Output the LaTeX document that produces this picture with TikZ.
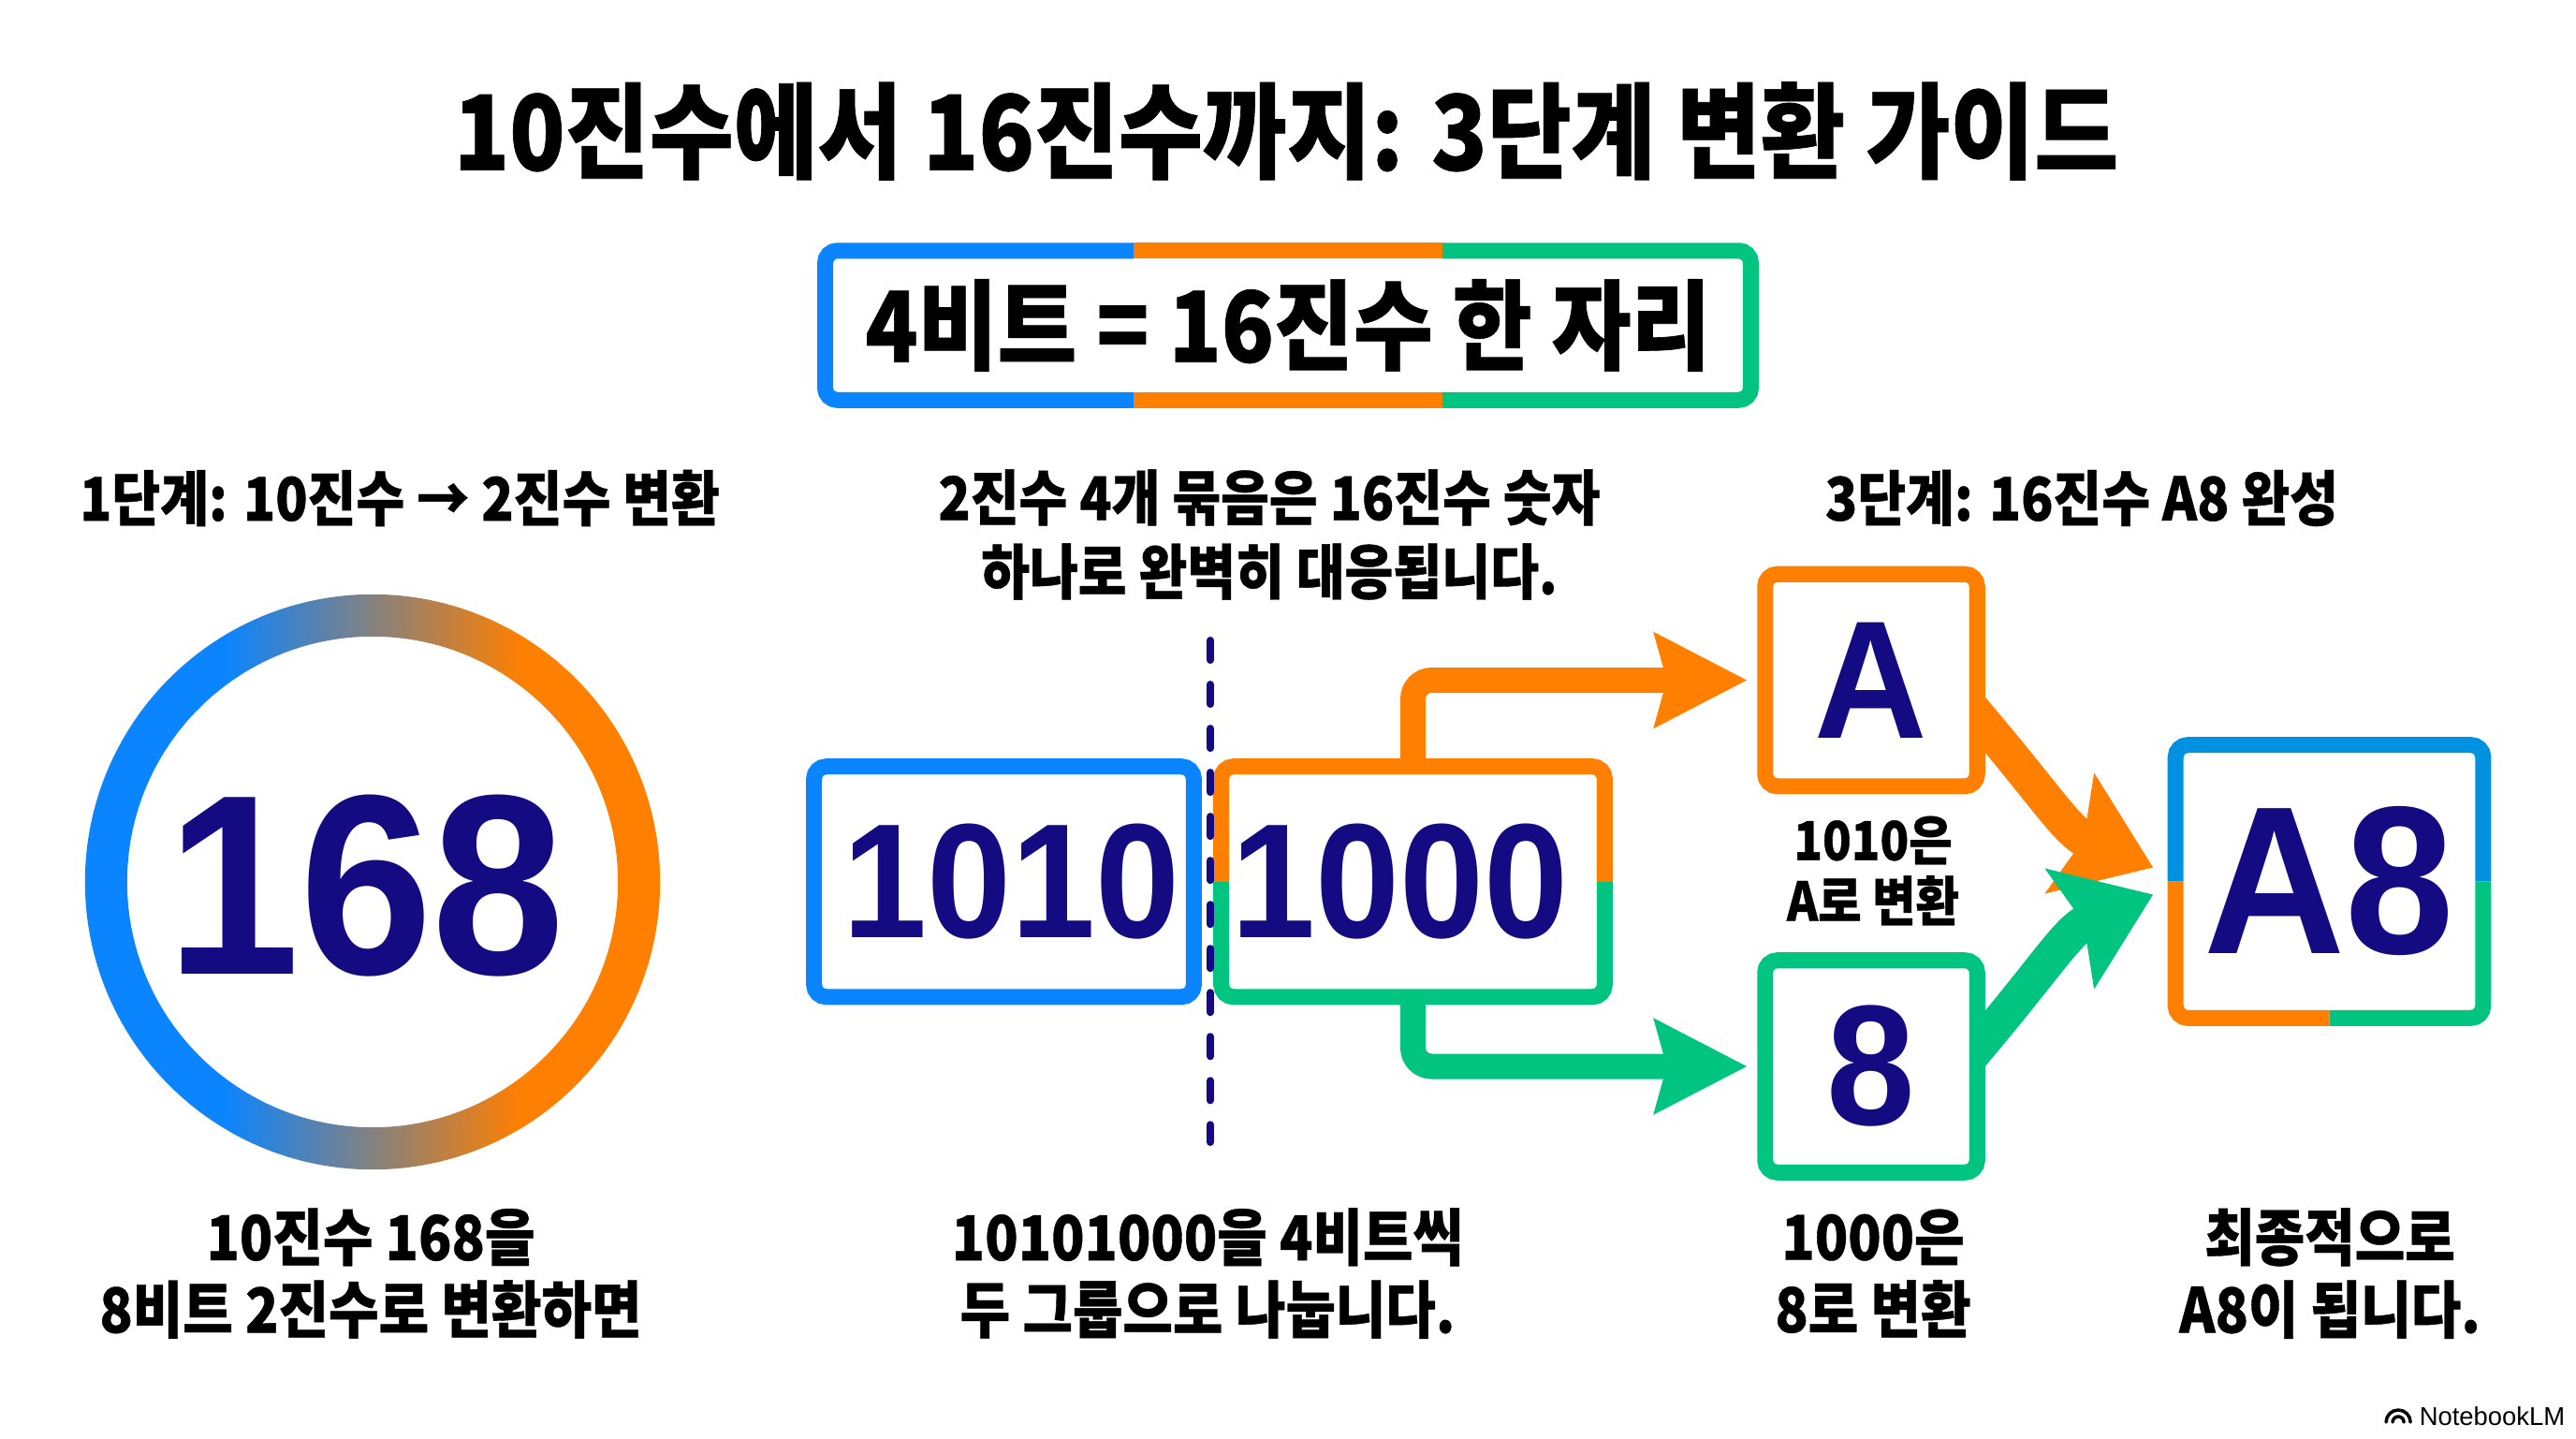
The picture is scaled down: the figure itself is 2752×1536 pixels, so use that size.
\documentclass[tikz,border=0pt]{standalone}
\usepackage{fontspec}
\usetikzlibrary{arrows.meta,calc}
\newfontfamily\krf{Noto Sans CJK KR}[FakeStretch=0.88, BoldFeatures={FakeBold=0.6}]
\newfontfamily\numf{Liberation Sans}[FakeStretch=0.93]
\newfontfamily\logof{Liberation Sans}
\definecolor{cblue}{RGB}{10,132,255}
\definecolor{cblueb}{RGB}{0,145,225}
\definecolor{corange}{RGB}{255,127,0}
\definecolor{cgreen}{RGB}{0,196,128}
\definecolor{navy}{RGB}{20,10,130}
\pgfdeclarehorizontalshading{ringshade}{100bp}{color(0bp)=(cblue); color(37bp)=(cblue); color(63bp)=(corange); color(100bp)=(corange)}
\tikzset{
  bw/.style={line width=0.17cm, rounded corners=0.13cm},
  wbox/.style={fill=white, inner sep=0pt, draw=none},
  bignum/.style={text=navy, inner sep=0pt, font=\numf\bfseries\fontsize{#1}{#1}\selectfont},
  kt/.style 2 args={inner sep=0pt, align=center, font=\krf\bfseries\fontsize{#1}{#2}\selectfont},
  hconn/.style={line width=0.27cm, rounded corners=0.2cm, -{Stealth[length=0.98cm,width=0.98cm,inset=0.12cm]}},
  dconn/.style={line width=0.38cm, -{Stealth[length=0.95cm,width=1.35cm,inset=0.15cm]}},
}
\begin{document}
\begin{tikzpicture}[x=0.01cm,y=-0.01cm]
\useasboundingbox (0,0) rectangle (2752,1536);
\fill[white] (0,0) rectangle (2752,1536);

% title
\node[kt={31.6}{36}] (title) at (1374,140) {10진수에서 16진수까지: 3단계 변환 가이드};

% rule box
\node[wbox, kt={29.8}{34}, minimum width=9.87cm, minimum height=1.58cm] (rule) at (1376,347.5) {4비트 = 16진수 한 자리};
\draw[cblue,bw] ($(rule.north west)!0.333!(rule.north east)$) -| (rule.south west) -- ($(rule.south west)!0.333!(rule.south east)$);
\draw[corange,bw] ($(rule.north west)!0.333!(rule.north east)$) -- ($(rule.north west)!0.667!(rule.north east)$);
\draw[corange,bw] ($(rule.south west)!0.333!(rule.south east)$) -- ($(rule.south west)!0.667!(rule.south east)$);
\draw[cgreen,bw] ($(rule.north west)!0.667!(rule.north east)$) -| (rule.south east) -- ($(rule.south west)!0.667!(rule.south east)$);

% step labels
\node[kt={18.2}{22.5}] (s1) at (427,532) {1단계: 10진수 → 2진수 변환};
\node[kt={18.2}{22.5}] (s2) at (1356,571) {2진수 4개 묶음은 16진수 숫자\\하나로 완벽히 대응됩니다.};
\node[kt={18.2}{22.5}] (s3) at (2224,532) {3단계: 16진수 A8 완성};

% ring
\coordinate (cc) at (398,942);
\shade[shading=ringshade, even odd rule] (cc) circle [radius=3.07cm] (cc) circle [radius=2.62cm];
\node[bignum=78] (n168) at (391,946) {168};

% box positions (needed for connectors)
\node[wbox, minimum width=2.25cm, minimum height=2.25cm] (Abox) at (1999,726.5) {};
\node[wbox, minimum width=2.25cm, minimum height=2.25cm] (Bbox) at (1999,1139) {};
\node[wbox, minimum width=4.08cm, minimum height=2.445cm] (b2) at (1509.5,941.75) {};
\node[wbox, minimum width=3.27cm, minimum height=2.90cm] (A8) at (2488.5,941.5) {};

% connectors
\draw[corange,hconn,shorten >=0.19cm] (b2.north) |- (Abox.west);
\draw[cgreen,hconn,shorten >=0.19cm] (b2.south) |- (Bbox.west);
\coordinate (oa) at ($(Abox.center)+(88,8)$);
\coordinate (ga) at ($(Bbox.center)+(88,10)$);
\coordinate (t1) at ($(A8.west)+(-24,-15)$);
\coordinate (t2) at ($(A8.west)+(-24,14)$);
\draw[corange,dconn] (oa) .. controls ($(oa)+(98,113)$) and ($(t1)+(-93,-38)$) .. (t1);
\draw[cgreen,dconn] (ga) .. controls ($(ga)+(98,-113)$) and ($(t2)+(-93,38)$) .. (t2);

% binary boxes
\node[wbox, minimum width=4.04cm, minimum height=2.445cm] (b1) at (1072.5,941.75) {};
\node[bignum=49.5] (b1t) at ($(b1.center)+(8,0)$) {1010};
\draw[cblue,bw] (b1.north west) rectangle (b1.south east);
\node[wbox] at (b2) {};
\node[bignum=49.5] (b2t) at ($(b2.center)+(-14,0)$) {1000};
\draw[corange,bw] (b2.west) |- (b2.north east) -- (b2.east);
\draw[cgreen,bw] (b2.west) |- (b2.south east) -- (b2.east);

% dashed divider
\coordinate (d1) at (1293,684);
\coordinate (d2) at (1293,1220);
\draw[navy, line width=0.08cm, dash pattern=on 0.21cm off 0.26cm, line cap=round] (d1) -- (d2);

% hex boxes
\node[wbox, bignum=51, minimum width=2.25cm, minimum height=2.25cm] (At) at (Abox) {A};
\draw[corange,bw] (Abox.north west) rectangle (Abox.south east);
\node[wbox, bignum=52, minimum width=2.25cm, minimum height=2.25cm] (Bt) at (Bbox) {8};
\draw[cgreen,bw] (Bbox.north west) rectangle (Bbox.south east);
\node[kt={16.3}{18.5}] (l1) at (2001,930) {1010은\\A로 변환};

% result box
\node[wbox, bignum=64, minimum width=3.27cm, minimum height=2.90cm] (A8t) at (A8) {A8};
\draw[cblueb,bw] (A8.west) |- (A8.north) -| (A8.east);
\draw[corange,bw] (A8.west) |- (A8.south);
\draw[cgreen,bw] (A8.east) |- (A8.south);

% captions
\node[kt={18.8}{22}] (c1) at (396,1360) {10진수 168을\\8비트 2진수로 변환하면};
\node[kt={18.8}{22}] (c2) at (1290,1360) {10101000을 4비트씩\\두 그룹으로 나눕니다.};
\node[kt={18.8}{22}] (c3) at (2001,1360) {1000은\\8로 변환};
\node[kt={18.8}{22}] (c4) at (2489,1360) {최종적으로\\A8이 됩니다.};

% logo
\node[inner sep=0pt, anchor=east, font=\logof\fontsize{7.8}{9}\selectfont] (logo) at (2741,1513) {NotebookLM};
\coordinate (ic) at ($(logo.west)+(-22,6)$);
\draw[line width=0.035cm, line cap=round] ($(ic)+(-13,0)$) arc[start angle=180, end angle=0, radius=0.13cm];
\draw[line width=0.035cm, line cap=round] ($(ic)+(-6,0)$) arc[start angle=180, end angle=0, radius=0.06cm];
\end{tikzpicture}
\end{document}
